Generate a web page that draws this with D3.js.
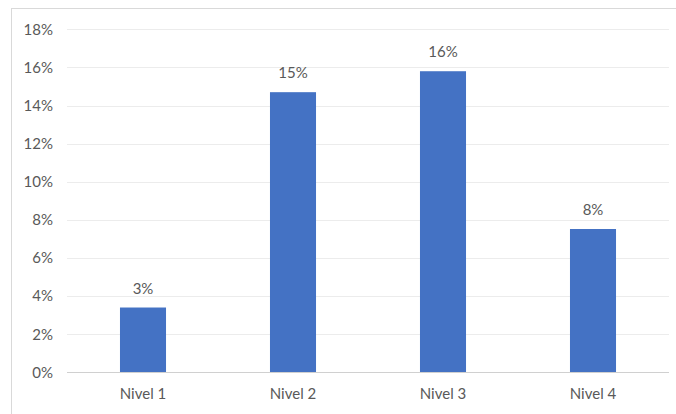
<!DOCTYPE html>
<html>
<head>
<meta charset="utf-8">
<script src="https://cdn.jsdelivr.net/npm/d3@7"></script>
<style>
html,body{margin:0;padding:0;background:#fff;}
svg{display:block;}
text{font-family:Lato,"Noto Sans",sans-serif;fill:#595959;}
</style>
</head>
<body>
<script>
const categories = ["Nivel 1", "Nivel 2", "Nivel 3", "Nivel 4"];
const values = [0.034, 0.147, 0.158, 0.0752];
const yTicks = [0, 0.02, 0.04, 0.06, 0.08, 0.10, 0.12, 0.14, 0.16, 0.18];

const W = 676, H = 414;
const svg = d3.select("body").append("svg").attr("width", W).attr("height", H);

// chart frame
svg.append("rect").attr("x", 11.5).attr("y", 8.5).attr("width", 700).attr("height", 430)
  .attr("fill", "#fff").attr("stroke", "#d9d9d9").attr("stroke-width", 1);

const x = d3.scaleBand().domain(categories).range([68, 668]).paddingInner(0.693).paddingOuter(0.3465);
const y = d3.scaleLinear().domain([0, 0.18]).range([372.3, 29.3]);
const fmt = d3.format(".0%");

// gridlines
svg.append("g").selectAll("line").data(yTicks.filter(d => d > 0)).join("line")
  .attr("x1", 67).attr("x2", 669)
  .attr("y1", d => Math.round(y(d)) + 0.5).attr("y2", d => Math.round(y(d)) + 0.5)
  .attr("stroke", "#ececec").attr("stroke-width", 1);

// y axis labels
const yAxis = d3.axisLeft(y).tickValues(yTicks).tickFormat(fmt).tickSize(0).tickPadding(0);
const gy = svg.append("g").attr("transform", "translate(53,0)").call(yAxis);
gy.select(".domain").remove();
gy.selectAll("text").attr("font-size", 15).attr("fill", "#595959").attr("font-family", "Lato,'Noto Sans',sans-serif");

// bars
svg.append("g").selectAll("rect").data(values).join("rect")
  .attr("x", (d, i) => x(categories[i]))
  .attr("width", x.bandwidth())
  .attr("y", d => y(d))
  .attr("height", d => y(0) - y(d))
  .attr("fill", "#4472c4");

// x axis
const xAxis = d3.axisBottom(x).tickSize(0).tickPadding(0);
const gx = svg.append("g").attr("transform", `translate(0,${y(0)})`).call(xAxis);
gx.select(".domain").remove();
gx.selectAll("text").attr("font-size", 15).attr("fill", "#595959")
  .attr("font-family", "Lato,'Noto Sans',sans-serif").attr("dy", null).attr("y", 26.4);
svg.append("line").attr("x1", 67).attr("x2", 669).attr("y1", 372.5).attr("y2", 372.5)
  .attr("stroke", "#d0d0d0").attr("stroke-width", 1);

// data labels
svg.append("g").selectAll("text").data(values).join("text")
  .attr("x", (d, i) => x(categories[i]) + x.bandwidth() / 2)
  .attr("y", d => y(d) - 14)
  .attr("text-anchor", "middle")
  .attr("font-size", 15)
  .text(d => fmt(d));
</script>
</body>
</html>
